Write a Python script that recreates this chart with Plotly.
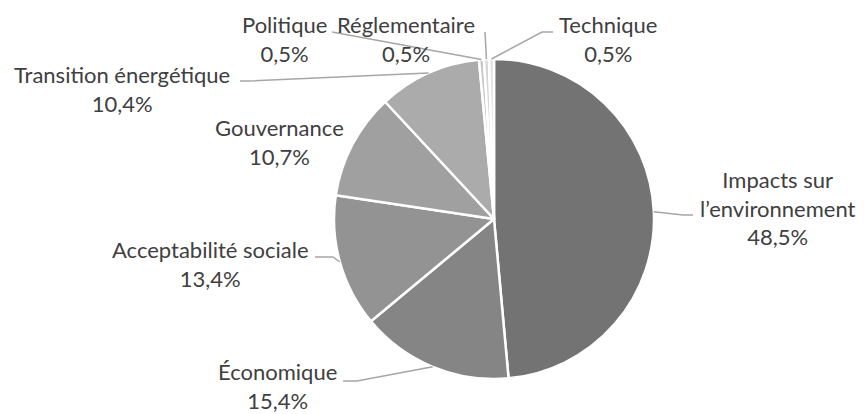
import numpy as np
import plotly.graph_objects as go

# ---- data ----
categories = ["Impacts sur l’environnement", "Économique", "Acceptabilité sociale",
              "Gouvernance", "Transition énergétique", "Politique", "Réglementaire", "Technique"]
label_names = ["Impacts sur<br>l’environnement", "Économique", "Acceptabilité sociale",
               "Gouvernance", "Transition énergétique", "Politique", "Réglementaire", "Technique"]
values = [48.5, 15.4, 13.4, 10.7, 10.4, 0.5, 0.5, 0.5]
pct_labels = ["48,5%", "15,4%", "13,4%", "10,7%", "10,4%", "0,5%", "0,5%", "0,5%"]

# ---- styles / layout ----
W, H = 864, 414
colors = ["#737373", "#858585", "#939393", "#a0a0a0", "#ababab", "#c8c8c8", "#d6d6d6", "#e2e2e2"]
text_color = "#404040"
line_color = "#a6a6a6"
FONT = "Lato"
FS = 22

# pie geometry (pixels)
cx, cy, R = 494, 219, 160

# label block centers (pixels)
label_pos = [(778, 208), (277, 386), (210, 264), (279, 142), (122, 89),
             (284, 39), (406, 39), (608, 39)]
# extra leader-line points after the slice edge point (pixels); None = no leader line
leader_pts = [[(683, 215), (693, 215)],
              [(357, 381), (343, 381)],
              [(333, 257), (315, 257)],
              None,
              [(248, 81), (240, 81)],
              [(332, 32)],
              [(485, 32)],
              [(542, 32), (553, 32)]]

def px(x):
    return x / W

def py(y):
    return 1 - y / H

fig = go.Figure()
fig.add_trace(go.Pie(
    labels=categories, values=values, sort=False, direction="clockwise", rotation=0,
    textinfo="none", hoverinfo="label+percent",
    marker=dict(colors=colors, line=dict(color="white", width=2.5)),
    domain=dict(x=[px(cx - R), px(cx + R)], y=[py(cy + R), py(cy - R)]),
    showlegend=False,
))

total = sum(values)
cum = np.cumsum([0] + values)
shapes = []
annotations = []
for i, name in enumerate(label_names):
    mid = (cum[i] + values[i] / 2) / total * 2 * np.pi
    ex = cx + R * np.sin(mid)
    ey = cy - R * np.cos(mid)
    if leader_pts[i] is not None:
        pts = [(ex, ey)] + leader_pts[i]
        path = "M " + " L ".join(f"{px(x):.5f},{py(y):.5f}" for x, y in pts)
        shapes.append(dict(type="path", path=path, xref="paper", yref="paper",
                           line=dict(color=line_color, width=1.5)))
    lx, ly = label_pos[i]
    annotations.append(dict(
        x=px(lx), y=py(ly), xref="paper", yref="paper", xanchor="center", yanchor="middle",
        text=f"{name}<br>{pct_labels[i]}", showarrow=False, align="center",
        font=dict(family=FONT, size=FS, color=text_color),
    ))

fig.update_layout(
    width=W, height=H, margin=dict(l=0, r=0, t=0, b=0),
    paper_bgcolor="white", plot_bgcolor="white",
    shapes=shapes, annotations=annotations,
)

fig.write_html("out.html", config={"displayModeBar": False},
               post_script="document.body.style.margin='0';document.body.style.overflow='hidden';")
